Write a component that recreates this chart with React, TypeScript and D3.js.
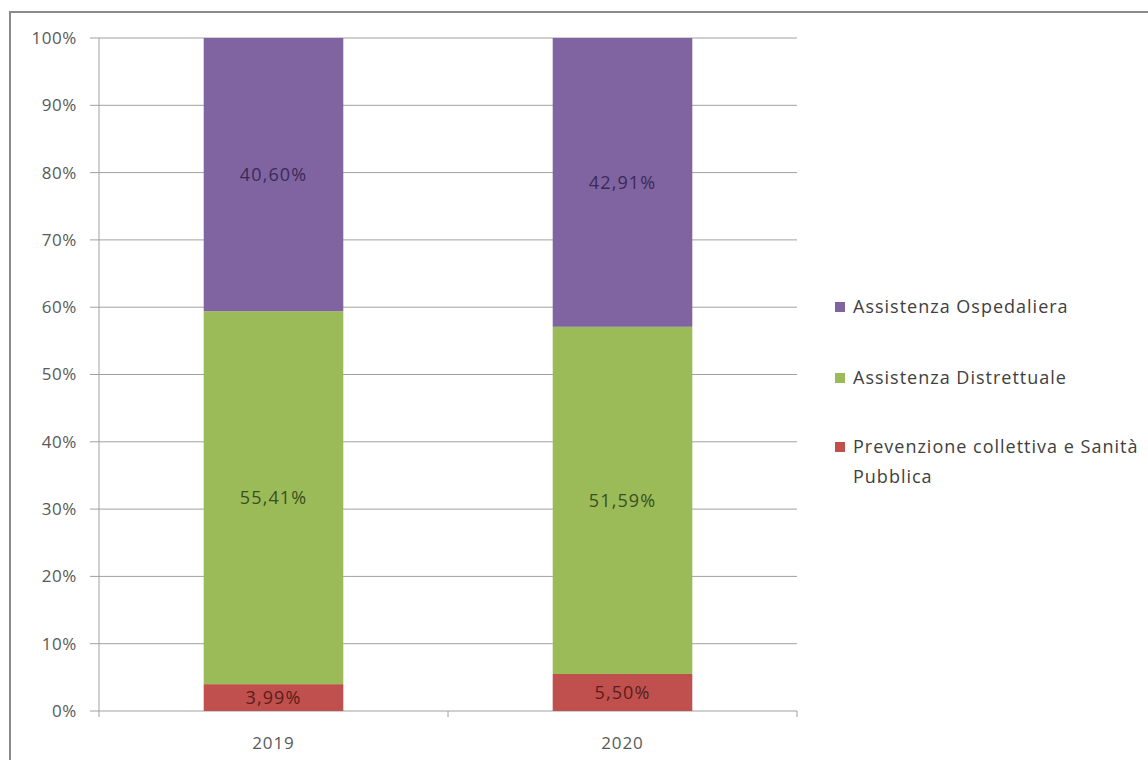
import React from "react";
import * as d3 from "d3";

const years = ["2019", "2020"];
const seriesNames = [
  "Prevenzione collettiva e Sanità Pubblica",
  "Assistenza Distrettuale",
  "Assistenza Ospedaliera",
];
const prevenzione = [3.99, 5.5];
const distrettuale = [55.41, 51.59];
const ospedaliera = [40.6, 42.91];
const yTicks = [0, 10, 20, 30, 40, 50, 60, 70, 80, 90, 100];

const fills = ["#C0504D", "#9BBB59", "#8064A2"];
const labelColors = ["#5a1d1b", "#3a4f1e", "#3a2a55"];

const W = 1148;
const H = 760;
const FONT = "'Open Sans', Lato, sans-serif";

export default function App() {
  const x = d3.scaleBand<string>().domain(years).range([99, 797]).paddingInner(0.6).paddingOuter(0.3);
  const y = d3.scaleLinear().domain([0, 100]).range([711, 38]);

  const rows = years.map((yr, i) => ({
    year: yr,
    prev: prevenzione[i],
    dist: distrettuale[i],
    osp: ospedaliera[i],
  }));
  const stack = d3.stack<any>().keys(["prev", "dist", "osp"])(rows);
  const fmt = (v: number) => v.toFixed(2).replace(".", ",") + "%";

  const bandStep = (797 - 99) / years.length;
  const legendEntries = [
    { name: seriesNames[2], color: fills[2], y: 307, lines: ["Assistenza Ospedaliera"] },
    { name: seriesNames[1], color: fills[1], y: 378, lines: ["Assistenza Distrettuale"] },
    { name: seriesNames[0], color: fills[0], y: 447, lines: ["Prevenzione collettiva e Sanità", "Pubblica"] },
  ];

  return (
    <svg
      width={W}
      height={H}
      style={{ position: "absolute", left: 0, top: 0, background: "#fff" }}
      fontFamily={FONT}
    >
      <rect x={10} y={12} width={W + 20} height={H + 20} fill="#fff" stroke="#8a8a8a" strokeWidth={2} />

      {/* gridlines */}
      {yTicks.map((t) => (
        <line key={"g" + t} x1={90} x2={797} y1={y(t)} y2={y(t)} stroke="#a0a0a0" strokeWidth={1} />
      ))}
      {/* y axis */}
      <line x1={99} x2={99} y1={y(100)} y2={y(0)} stroke="#a0a0a0" strokeWidth={1} />
      {yTicks.map((t) => (
        <text key={"t" + t} x={77} y={y(t)} dy="0.35em" textAnchor="end" fontSize={17} letterSpacing={0.6} fill="#595959">
          {t}%
        </text>
      ))}
      {/* x axis tick marks at category boundaries */}
      {d3.range(years.length + 1).map((i) => (
        <line key={"xt" + i} x1={99 + i * bandStep} x2={99 + i * bandStep} y1={y(0)} y2={y(0) + 6} stroke="#a0a0a0" />
      ))}

      {/* stacked bars */}
      {stack.map((layer, li) =>
        layer.map((d, i) => (
          <g key={li + "-" + i}>
            <rect
              x={x(years[i])}
              y={y(d[1])}
              width={x.bandwidth()}
              height={y(d[0]) - y(d[1])}
              fill={fills[li]}
            />
            <text
              x={(x(years[i]) as number) + x.bandwidth() / 2}
              y={(y(d[0]) + y(d[1])) / 2}
              dy="0.35em"
              textAnchor="middle"
              fontSize={18}
              letterSpacing={1.1}
              fill={labelColors[li]}
            >
              {fmt(d[1] - d[0])}
            </text>
          </g>
        ))
      )}

      {/* category labels */}
      {years.map((yr) => (
        <text
          key={"c" + yr}
          x={(x(yr) as number) + x.bandwidth() / 2}
          y={743}
          dy="0.35em"
          textAnchor="middle"
          fontSize={17}
          letterSpacing={0.9}
          fill="#595959"
        >
          {yr}
        </text>
      ))}

      {/* legend */}
      {legendEntries.map((e) => (
        <g key={e.name}>
          <rect x={835} y={e.y - 5} width={10} height={10} fill={e.color} />
          {e.lines.map((ln, k) => (
            <text key={k} x={853} y={e.y + k * 30} dy="0.35em" fontSize={18} letterSpacing={1.0} fill="#404040">
              {ln}
            </text>
          ))}
        </g>
      ))}
    </svg>
  );
}
